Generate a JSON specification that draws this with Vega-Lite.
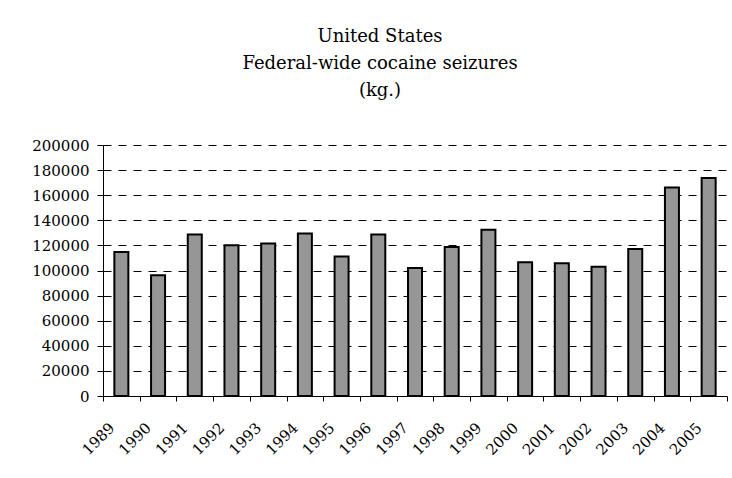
{
  "$schema": "https://vega.github.io/schema/vega-lite/v6.json",
  "autosize": "none",
  "width": 624,
  "height": 251,
  "padding": {"left": 103, "top": 145, "right": 5, "bottom": 82},
  "background": "white",
  "title": {
    "text": ["United States", "Federal-wide cocaine seizures", "(kg.)"],
    "font": "DejaVu Serif",
    "fontSize": 18,
    "fontWeight": "normal",
    "color": "black",
    "lineHeight": 27,
    "anchor": "middle",
    "dx": -35,
    "offset": 38
  },
  "data": {
    "values": [
      {"year": "1989", "kg": 114800},
      {"year": "1990", "kg": 96300},
      {"year": "1991", "kg": 128700},
      {"year": "1992", "kg": 120200},
      {"year": "1993", "kg": 121500},
      {"year": "1994", "kg": 129500},
      {"year": "1995", "kg": 111200},
      {"year": "1996", "kg": 128700},
      {"year": "1997", "kg": 101900},
      {"year": "1998", "kg": 118800},
      {"year": "1999", "kg": 132400},
      {"year": "2000", "kg": 106600},
      {"year": "2001", "kg": 105800},
      {"year": "2002", "kg": 102900},
      {"year": "2003", "kg": 117200},
      {"year": "2004", "kg": 166100},
      {"year": "2005", "kg": 173800}
    ]
  },
  "mark": {"type": "bar", "size": 14, "fill": "#969696", "stroke": "black", "strokeWidth": 2},
  "encoding": {
    "x": {
      "field": "year",
      "type": "ordinal",
      "scale": {"padding": 0},
      "axis": {
        "title": null,
        "labelAngle": -45,
        "labelAlign": "right",
        "labelBaseline": "middle",
        "labelPadding": 24,
        "labelOffset": -10,
        "tickBand": "extent",
        "tickSize": 5,
        "tickColor": "black",
        "domainColor": "black",
        "labelFont": "DejaVu Serif",
        "labelFontSize": 15,
        "labelColor": "black"
      }
    },
    "y": {
      "field": "kg",
      "type": "quantitative",
      "scale": {"domain": [0, 200000], "nice": false},
      "axis": {
        "title": null,
        "values": [0, 20000, 40000, 60000, 80000, 100000, 120000, 140000, 160000, 180000, 200000],
        "format": "d",
        "tickSize": 6,
        "tickColor": "black",
        "domainColor": "black",
        "labelPadding": 8,
        "labelFont": "DejaVu Serif",
        "labelFontSize": 15,
        "labelColor": "black",
        "grid": true,
        "gridColor": "black",
        "gridDash": [8, 7],
        "gridWidth": 1
      }
    }
  },
  "config": {"view": {"stroke": null}}
}
